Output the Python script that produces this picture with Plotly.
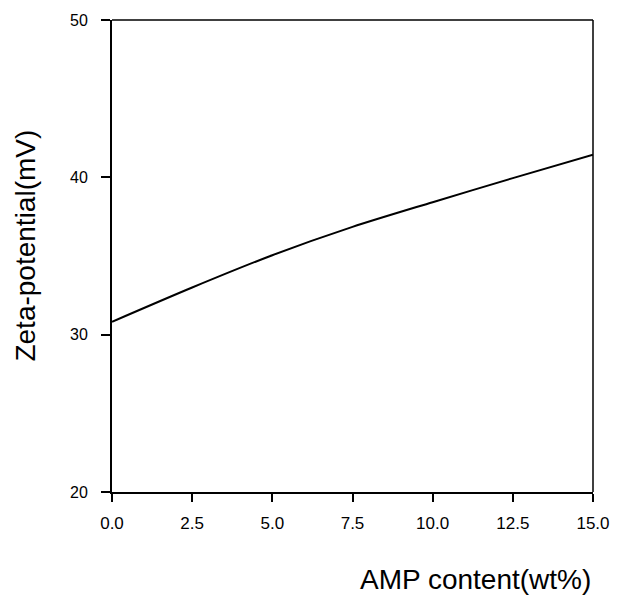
import plotly.graph_objects as go

# AMP content (wt%) and measured zeta-potential (mV)
amp_content = [0.0, 2.5, 5.0, 7.5, 10.0, 12.5, 15.0]
zeta_potential = [30.82, 33.0, 35.05, 36.85, 38.42, 39.95, 41.43]

x_ticks = [0.0, 2.5, 5.0, 7.5, 10.0, 12.5, 15.0]
x_tick_text = ["0.0", "2.5", "5.0", "7.5", "10.0", "12.5", "15.0"]
y_ticks = [20, 30, 40, 50]

FONT = "Liberation Sans, Arial, sans-serif"

fig = go.Figure()
fig.add_trace(go.Scatter(
    x=amp_content,
    y=zeta_potential,
    mode="lines",
    line=dict(color="black", width=2, shape="spline", smoothing=0.8),
    showlegend=False,
    hoverinfo="skip",
))

fig.update_layout(
    width=625,
    height=597,
    margin=dict(l=112, r=32, t=16, b=105),
    paper_bgcolor="white",
    plot_bgcolor="white",
    font=dict(family=FONT, color="black"),
    xaxis=dict(
        range=[0, 15],
        tickvals=x_ticks,
        ticktext=x_tick_text,
        ticks="outside",
        ticklen=8,
        tickwidth=1.5,
        tickcolor="black",
        ticklabelstandoff=7,
        tickfont=dict(size=17, family=FONT),
        showline=True,
        linecolor="black",
        linewidth=2,
        showgrid=False,
        zeroline=False,
        fixedrange=True,
    ),
    yaxis=dict(
        range=[20, 50],
        tickvals=y_ticks,
        ticks="outside",
        ticklen=9,
        tickwidth=1.5,
        tickcolor="black",
        ticklabelstandoff=10,
        tickfont=dict(size=16, family=FONT),
        showline=True,
        linecolor="black",
        linewidth=2,
        showgrid=False,
        zeroline=False,
        fixedrange=True,
    ),
    shapes=[
        # thin frame lines on the top and right sides
        dict(type="line", xref="paper", yref="paper", x0=0, x1=1, y0=1, y1=1,
             line=dict(color="black", width=1.5)),
        dict(type="line", xref="paper", yref="paper", x0=1, x1=1, y0=0, y1=1,
             line=dict(color="black", width=1.5)),
    ],
    annotations=[
        dict(text="AMP content(wt%)", xref="paper", yref="paper",
             x=1.0, y=-0.185, xanchor="right", yanchor="middle",
             showarrow=False, font=dict(size=28, family=FONT)),
        dict(text="Zeta-potential(mV)", xref="paper", yref="paper",
             x=-0.18, y=0.523, xanchor="center", yanchor="middle",
             textangle=-90, showarrow=False, font=dict(size=28, family=FONT)),
    ],
)

fig.write_html("out.html")
